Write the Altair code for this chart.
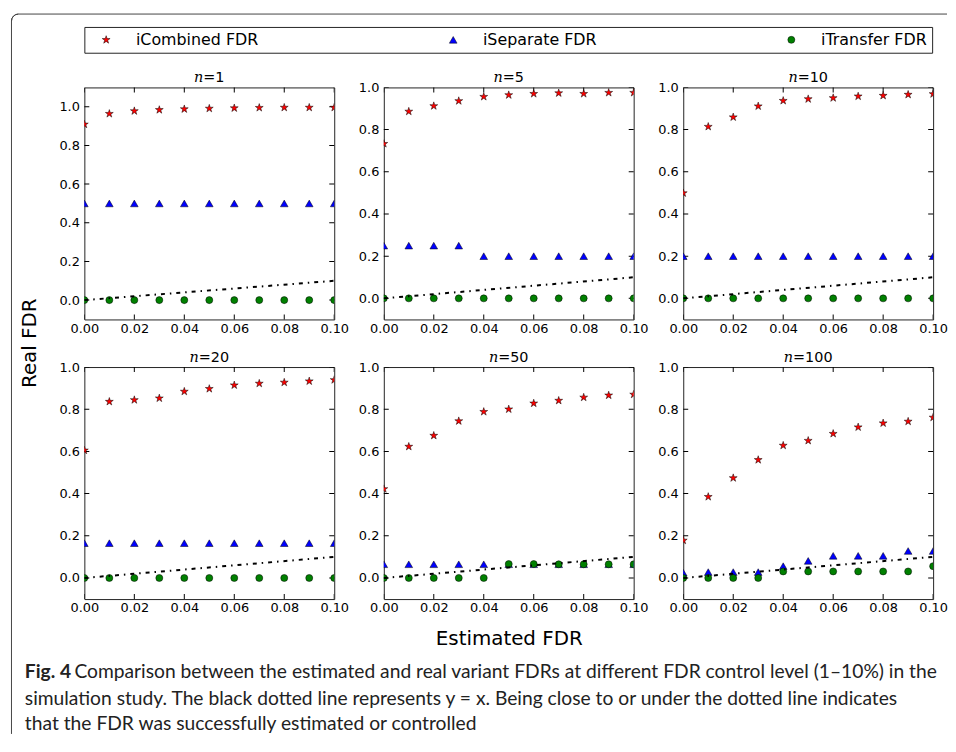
import math
import altair as alt
import pandas as pd

# ---------------- data ----------------
est_fdr = [0.00, 0.01, 0.02, 0.03, 0.04, 0.05, 0.06, 0.07, 0.08, 0.09, 0.10]
n_values = [1, 5, 10, 20, 50, 100]
series_names = ["iCombined FDR", "iSeparate FDR", "iTransfer FDR"]

combined_n1 = [0.909, 0.964, 0.978, 0.984, 0.988, 0.991, 0.993, 0.995, 0.996, 0.996, 0.996]
combined_n5 = [0.733, 0.886, 0.912, 0.936, 0.956, 0.964, 0.970, 0.973, 0.970, 0.975, 0.975]
combined_n10 = [0.499, 0.814, 0.859, 0.911, 0.937, 0.945, 0.950, 0.958, 0.961, 0.966, 0.969]
combined_n20 = [0.605, 0.836, 0.844, 0.852, 0.884, 0.897, 0.914, 0.922, 0.927, 0.933, 0.939]
combined_n50 = [0.422, 0.623, 0.675, 0.744, 0.788, 0.800, 0.828, 0.841, 0.856, 0.866, 0.870]
combined_n100 = [0.178, 0.385, 0.474, 0.560, 0.628, 0.651, 0.684, 0.715, 0.734, 0.742, 0.761]

separate_n1 = [0.5, 0.5, 0.5, 0.5, 0.5, 0.5, 0.5, 0.5, 0.5, 0.5, 0.5]
separate_n5 = [0.25, 0.25, 0.25, 0.25, 0.2, 0.2, 0.2, 0.2, 0.2, 0.2, 0.2]
separate_n10 = [0.2, 0.2, 0.2, 0.2, 0.2, 0.2, 0.2, 0.2, 0.2, 0.2, 0.2]
separate_n20 = [0.165, 0.165, 0.165, 0.165, 0.165, 0.165, 0.165, 0.165, 0.165, 0.165, 0.165]
separate_n50 = [0.065, 0.065, 0.065, 0.065, 0.065, 0.065, 0.065, 0.065, 0.065, 0.065, 0.065]
separate_n100 = [0.025, 0.028, 0.028, 0.028, 0.056, 0.081, 0.105, 0.105, 0.105, 0.128, 0.128]

transfer_n1 = [0, 0, 0, 0, 0, 0, 0, 0, 0, 0, 0]
transfer_n5 = [0, 0, 0, 0, 0, 0, 0, 0, 0, 0, 0]
transfer_n10 = [0, 0, 0, 0, 0, 0, 0, 0, 0, 0, 0]
transfer_n20 = [0, 0, 0, 0, 0, 0, 0, 0, 0, 0, 0]
transfer_n50 = [0, 0, 0, 0, 0, 0.066, 0.066, 0.065, 0.065, 0.065, 0.065]
transfer_n100 = [0, 0, 0, 0, 0.031, 0.031, 0.031, 0.031, 0.031, 0.031, 0.056]

identity_x = [0.0, 0.1]   # the y = x reference line
identity_y = [0.0, 0.1]

x_ticks = [0.0, 0.02, 0.04, 0.06, 0.08, 0.10]
y_ticks = [0.0, 0.2, 0.4, 0.6, 0.8, 1.0]
y_top = [1.1, 1.0, 1.0, 1.0, 1.0, 1.0]
y_bottom = -0.1

caption_bold = "Fig. 4"
caption_lines = [
    "Comparison between the estimated and real variant FDRs at different FDR control level (1\u201310%) in the",
    "simulation study. The black dotted line represents y = x. Being close to or under the dotted line indicates",
    "that the FDR was successfully estimated or controlled",
]

combined = [combined_n1, combined_n5, combined_n10, combined_n20, combined_n50, combined_n100]
separate = [separate_n1, separate_n5, separate_n10, separate_n20, separate_n50, separate_n100]
transfer = [transfer_n1, transfer_n5, transfer_n10, transfer_n20, transfer_n50, transfer_n100]

records = []
for i, n in enumerate(n_values):
    for s, vals in zip(series_names, [combined[i], separate[i], transfer[i]]):
        for x, y in zip(est_fdr, vals):
            records.append({"n": n, "series": s, "x": x, "y": y})
df = pd.DataFrame(records)
diag = pd.DataFrame({"x": identity_x, "y": identity_y})
one = pd.DataFrame({"k": [0]})

# ---------------- styles ----------------
W, H = 252, 234
FONT = "DejaVu Sans"


def star_path(inner=0.382):
    pts = []
    for k in range(10):
        a = math.radians(-90 + 36 * k)
        r = 1.0 if k % 2 == 0 else inner
        pts.append(f"{r * math.cos(a):.3f},{r * math.sin(a):.3f}")
    return "M" + " L".join(pts) + " Z"


colors = ["#ff0000", "#0000ff", "#008000"]
shapes = [star_path(), "triangle-up", "circle"]
sizes = [70, 50, 42]


def make_panel(i, annotate=False):
    n = n_values[i]
    top = y_top[i]
    xs = alt.Scale(domain=[est_fdr[0], est_fdr[-1]], nice=False, zero=False)
    ys = alt.Scale(domain=[y_bottom, top], nice=False, zero=False)

    def X():
        return alt.X("x:Q", scale=xs, title=None,
                     axis=alt.Axis(values=x_ticks, format=".2f", labelFlush=False,
                                   labelOverlap=False, labelPadding=3))

    def Y():
        return alt.Y("y:Q", scale=ys, title=None,
                     axis=alt.Axis(values=y_ticks, format=".1f", labelFlush=False,
                                   labelOverlap=False, labelPadding=5))

    # inward ticks on all four sides (half of each tick is clipped away)
    left = pd.DataFrame({"x": [est_fdr[0]] * len(y_ticks), "y": y_ticks})
    right = pd.DataFrame({"x": [est_fdr[-1]] * len(y_ticks), "y": y_ticks})
    bottom = pd.DataFrame({"x": x_ticks, "y": [y_bottom] * len(x_ticks)})
    topd = pd.DataFrame({"x": x_ticks, "y": [top] * len(x_ticks)})
    tick_h = dict(orient="horizontal", size=10, thickness=1, color="black", opacity=1, clip=True)
    tick_v = dict(orient="vertical", size=10, thickness=1, color="black", opacity=1, clip=True)
    layers = [
        alt.Chart(left).mark_tick(**tick_h).encode(x=X(), y=Y()),
        alt.Chart(right).mark_tick(**tick_h).encode(x=X(), y=Y()),
        alt.Chart(bottom).mark_tick(**tick_v).encode(x=X(), y=Y()),
        alt.Chart(topd).mark_tick(**tick_v).encode(x=X(), y=Y()),
    ]

    pts = alt.Chart(df[df.n == n]).mark_point(
        filled=True, opacity=1, stroke="black", strokeWidth=0.5, clip=True
    ).encode(
        x=X(), y=Y(),
        color=alt.Color("series:N", scale=alt.Scale(domain=series_names, range=colors), title=None,
                        legend=alt.Legend(orient="none", legendX=0, legendY=-61, direction="horizontal",
                                          title=None)),
        shape=alt.Shape("series:N", scale=alt.Scale(domain=series_names, range=shapes), title=None),
        size=alt.Size("series:N", scale=alt.Scale(domain=series_names, range=sizes), legend=None),
    )
    line = alt.Chart(diag).mark_line(
        color="black", strokeWidth=2, strokeDash=[4, 5, 1.5, 5], clip=True
    ).encode(x=X(), y=Y())
    layers += [pts, line]

    # panel title: italic n followed by "=value"
    fs = 14.5
    rest = "=" + str(n)
    w_n = 0.644 * fs
    w_rest = (0.838 + 0.636 * len(str(n))) * fs
    x0 = W / 2 - (w_n + w_rest) / 2
    layers.append(alt.Chart(one).mark_text(
        text="n", font="DejaVu Serif", fontStyle="italic", fontSize=fs, align="left",
        baseline="alphabetic", color="black").encode(x=alt.value(x0), y=alt.value(-5)))
    layers.append(alt.Chart(one).mark_text(
        text=rest, font=FONT, fontSize=fs, align="left", baseline="alphabetic",
        color="black").encode(x=alt.value(x0 + w_n), y=alt.value(-5)))

    if annotate:
        fl, ft, rad = -73.5, -74, 7
        frame = dict(color="#444444", strokeWidth=1)
        layers.append(alt.Chart(one).mark_rule(**frame).encode(
            x=alt.value(fl + rad), x2=alt.value(870), y=alt.value(ft)))
        layers.append(alt.Chart(one).mark_rule(**frame).encode(
            x=alt.value(fl), y=alt.value(ft + rad), y2=alt.value(652)))
        layers.append(alt.Chart(one).mark_arc(
            radius=rad, radius2=rad, theta=1.5 * math.pi, theta2=2 * math.pi,
            fill="white", fillOpacity=0, stroke="#444444", strokeWidth=1).encode(
            x=alt.value(fl + rad), y=alt.value(ft + rad)))
        layers.append(alt.Chart(one).mark_text(
            text="Real FDR", font=FONT, fontSize=20, angle=270, align="center",
            baseline="middle", color="black").encode(x=alt.value(-54.5), y=alt.value(258)))
        layers.append(alt.Chart(one).mark_text(
            text="Estimated FDR", font=FONT, fontSize=20, align="center",
            baseline="alphabetic", color="black").encode(x=alt.value(428.5), y=alt.value(562)))
        cap_font = "Lato"
        cap_fs = 19.4
        layers.append(alt.Chart(one).mark_text(
            text=caption_bold, font=cap_font, fontSize=cap_fs, fontWeight="bold", align="left",
            baseline="alphabetic", color="#222222").encode(x=alt.value(-60), y=alt.value(596)))
        layers.append(alt.Chart(one).mark_text(
            text=caption_lines[0], font=cap_font, fontSize=cap_fs, align="left",
            baseline="alphabetic", color="#222222").encode(x=alt.value(-10), y=alt.value(596)))
        layers.append(alt.Chart(one).mark_text(
            text=caption_lines[1], font=cap_font, fontSize=cap_fs, align="left",
            baseline="alphabetic", color="#222222").encode(x=alt.value(-60), y=alt.value(622.5)))
        layers.append(alt.Chart(one).mark_text(
            text=caption_lines[2], font=cap_font, fontSize=cap_fs, align="left",
            baseline="alphabetic", color="#222222").encode(x=alt.value(-60), y=alt.value(648.5)))

    return alt.layer(*layers).properties(width=W, height=H)


panels = [make_panel(i, annotate=(i == 0)) for i in range(6)]

chart = alt.concat(
    *panels, columns=3, spacing={"row": 48, "column": 50}, bounds="flush"
).resolve_scale(
    color="shared", shape="shared", size="shared", x="independent", y="independent"
).resolve_legend(color="shared", shape="shared")

chart = chart.properties(
    padding={"left": 1, "top": 0, "right": 0, "bottom": 0},
    background="white",
).configure_view(
    stroke="#222222", strokeWidth=1
).configure_axis(
    domain=False, ticks=False, tickSize=0, grid=False,
    labelFont=FONT, labelFontSize=13, labelColor="black",
).configure_legend(
    strokeColor="#222222", fillColor="white", padding=5, cornerRadius=0,
    columnPadding=179, symbolOffset=9, labelOffset=22,
    labelFont=FONT, labelFontSize=16, labelColor="black",
    symbolSize=60, symbolStrokeColor="black", symbolStrokeWidth=0.5,
)

chart.save("out.html", embed_options={"renderer": "svg", "actions": False})
